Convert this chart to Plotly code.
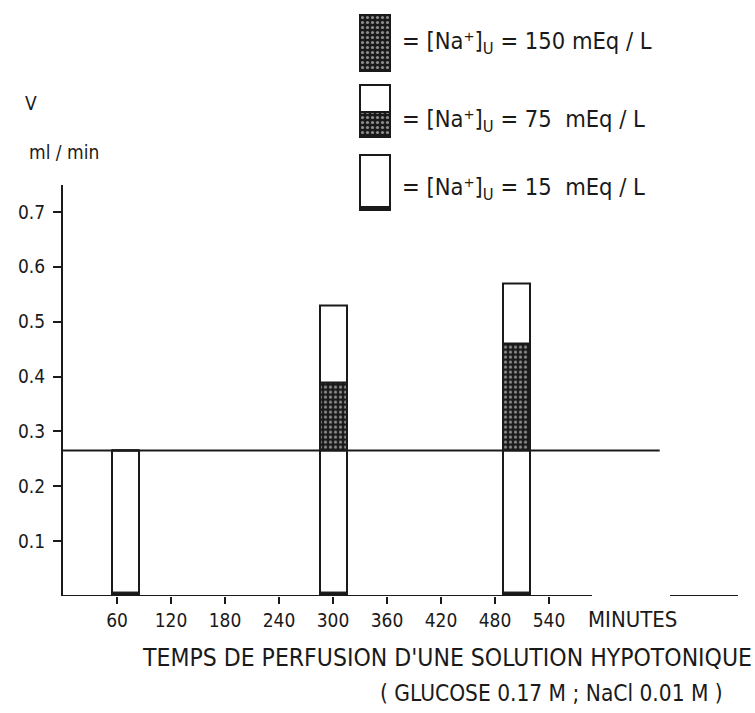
import plotly.graph_objects as go

# ---- data ----
times = [69, 300, 504]                 # minutes (bar centres)
v_15 = [0.265, 0.265, 0.265]           # top of lower white part ([Na+]U = 15)
v_150 = [0.265, 0.39, 0.46]            # top of dotted part ([Na+]U = 150)
v_total = [0.265, 0.53, 0.57]          # total V (top white part = 75)
bar_width = 30
control_v = 0.265
control_end = 663
x_ticks = [60, 120, 180, 240, 300, 360, 420, 480, 540]
y_ticks = [0.1, 0.2, 0.3, 0.4, 0.5, 0.6, 0.7]
y_ticktext = ["0.1", "0.2", "0.3", "0.4", "0.5", "0.6", "0.7"]

legend_labels = [
    "= [Na⁺]<sub>U</sub> = 150 mEq / L",
    "= [Na⁺]<sub>U</sub> = 75  mEq / L",
    "= [Na⁺]<sub>U</sub> = 15  mEq / L",
]

FONT = "DejaVu Sans Condensed, DejaVu Sans, sans-serif"
INK = "#1a1a1a"
dots = dict(shape=".", bgcolor=INK, fgcolor="white", size=5, solidity=0.32)
line = dict(color=INK, width=2)

W, H = 755, 713
ML, MR, MT, MB = 63, 10, 5, 117
PW, PH = W - ML - MR, H - MT - MB
PX_PER_MIN = 0.9


def px_x(p):
    return (p - ML) / PW


def px_y(p):
    return (H - MB - p) / PH


fig = go.Figure()

fig.add_trace(go.Bar(x=times, y=v_15, base=[0] * len(times), width=bar_width,
                     marker=dict(color="white", line=line), showlegend=False,
                     hoverinfo="skip"))
fig.add_trace(go.Bar(x=times, y=[b - a for a, b in zip(v_15, v_150)], base=v_15,
                     width=bar_width,
                     marker=dict(color=INK, pattern=dots, line=line), showlegend=False,
                     hoverinfo="skip"))
fig.add_trace(go.Bar(x=times, y=[b - a for a, b in zip(v_150, v_total)], base=v_150,
                     width=bar_width,
                     marker=dict(color="white", line=line), showlegend=False,
                     hoverinfo="skip"))
# dark foot of each bar
fig.add_trace(go.Bar(x=times, y=[0.006] * len(times), base=[0] * len(times),
                     width=bar_width, marker=dict(color=INK, line=dict(color=INK, width=1)),
                     showlegend=False, hoverinfo="skip"))

# ---- legend swatches on an auxiliary axis (units = pixels from top) ----
sw_x = [25]
fig.add_trace(go.Bar(x=sw_x, y=[56], base=[10], width=30, xaxis="x2", yaxis="y2",
                     marker=dict(color=INK, pattern=dots, line=line), showlegend=False,
                     hoverinfo="skip"))
fig.add_trace(go.Bar(x=sw_x, y=[27], base=[80], width=30, xaxis="x2", yaxis="y2",
                     marker=dict(color="white", line=line), showlegend=False,
                     hoverinfo="skip"))
fig.add_trace(go.Bar(x=sw_x, y=[25], base=[107], width=30, xaxis="x2", yaxis="y2",
                     marker=dict(color=INK, pattern=dots, line=line), showlegend=False,
                     hoverinfo="skip"))
fig.add_trace(go.Bar(x=sw_x, y=[55], base=[150], width=30, xaxis="x2", yaxis="y2",
                     marker=dict(color="white", line=line), showlegend=False,
                     hoverinfo="skip"))
fig.add_trace(go.Bar(x=sw_x, y=[3], base=[202], width=30, xaxis="x2", yaxis="y2",
                     marker=dict(color=INK, line=dict(color=INK, width=1)), showlegend=False,
                     hoverinfo="skip"))


def note(text, x, y, size, xanchor="left"):
    return dict(text=text, x=px_x(x), y=px_y(y), xref="paper", yref="paper",
                xanchor=xanchor, yanchor="middle", showarrow=False,
                font=dict(size=size, family=FONT, color=INK))


annotations = [note(lbl, 400, yy, 23.5) for lbl, yy in zip(legend_labels, [42, 120, 188])]
annotations += [
    note("V", 31, 103, 19, "center"),
    note("ml / min", 64, 152, 19, "center"),
    note("MINUTES", 586, 620, 22),
    note("TEMPS DE PERFUSION D'UNE SOLUTION HYPOTONIQUE", 140, 657, 24.5),
    note("( GLUCOSE 0.17 M ; NaCl 0.01 M )", 378, 693, 22.5),
]

fig.add_shape(type="line", xref="x", yref="y", x0=0, x1=control_end,
              y0=control_v, y1=control_v, line=dict(color=INK, width=2), layer="below")
# time axis as drawn in the reference (with its break)
for a, b in [(0, (592 - ML) / PX_PER_MIN), ((670 - ML) / PX_PER_MIN, (738 - ML) / PX_PER_MIN)]:
    fig.add_shape(type="line", xref="x", yref="y", x0=a, x1=b, y0=0, y1=0,
                  line=dict(color=INK, width=2))

fig.update_layout(
    width=W, height=H,
    margin=dict(l=ML, r=MR, t=MT, b=MB),
    paper_bgcolor="white", plot_bgcolor="white",
    barmode="overlay", bargap=0,
    font=dict(family=FONT, color=INK),
    annotations=annotations,
    xaxis=dict(range=[0, PW / PX_PER_MIN], domain=[0, 1], showline=False,
               ticks="outside", ticklen=7, tickwidth=2, tickcolor=INK,
               tickvals=x_ticks, showgrid=False, zeroline=False,
               tickfont=dict(size=19, family=FONT, color=INK)),
    yaxis=dict(range=[0, 0.75], domain=[0, 0.75 * 548.6 / PH], showline=True,
               linecolor=INK, linewidth=2, ticks="outside", ticklen=8, tickwidth=2,
               tickcolor=INK, tickvals=y_ticks, ticktext=y_ticktext, showgrid=False,
               zeroline=False, ticklabelstandoff=4,
               tickfont=dict(size=19, family=FONT, color=INK)),
    xaxis2=dict(domain=[px_x(350), px_x(400)], range=[0, 50], anchor="y2", visible=False),
    yaxis2=dict(domain=[px_y(215), px_y(5)], range=[210, 0], anchor="x2", visible=False),
)

fig.write_html("out.html", config={"displayModeBar": False},
               post_script="document.body.style.margin='0';")
